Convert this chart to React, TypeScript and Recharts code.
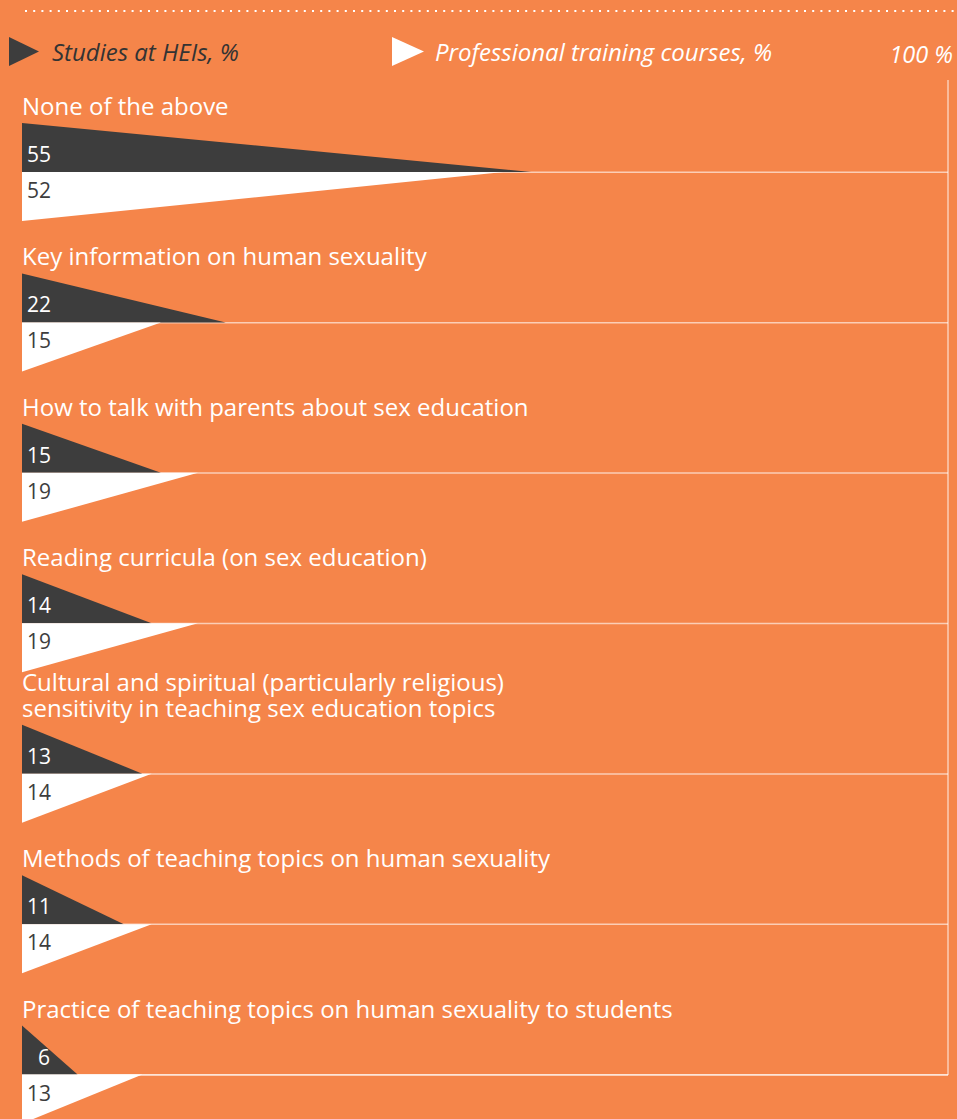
import { BarChart, Bar, XAxis, YAxis, CartesianGrid, LabelList } from "recharts";

const categories = [
  "None of the above",
  "Key information on human sexuality",
  "How to talk with parents about sex education",
  "Reading curricula (on sex education)",
  "Cultural and spiritual (particularly religious)\nsensitivity in teaching sex education topics",
  "Methods of teaching topics on human sexuality",
  "Practice of teaching topics on human sexuality to students",
];
const heiValues = [55, 22, 15, 14, 13, 11, 6];
const courseValues = [52, 15, 19, 19, 14, 14, 13];
const seriesNames = ["Studies at HEIs, %", "Professional training courses, %"];
const scaleLabel = "100 %";

const data = categories.map((name, i) => ({
  name,
  hei: heiValues[i],
  course: courseValues[i],
}));

const ORANGE = "#F5854A";
const DARK = "#3D3D3D";
const LINE = "rgba(255,255,255,0.6)";
const FONT = "'Open Sans', sans-serif";

// dark triangle: right angle at bottom-left, tip on the baseline
function DarkTriangle(props: any) {
  const { x, y, width, height, fill } = props;
  return (
    <polygon
      points={`${x},${y} ${x},${y + height} ${x + width},${y + height}`}
      fill={fill}
    />
  );
}

// white triangle: right angle at top-left, tip on the baseline
function LightTriangle(props: any) {
  const { x, y, width, height, fill } = props;
  return (
    <polygon points={`${x},${y} ${x + width},${y} ${x},${y + height}`} fill={fill} />
  );
}

function CategoryLabel(props: any) {
  const { x, y, value } = props;
  const lines = String(value).split("\n");
  const lastY = y - 8;
  return (
    <text x={x} y={lastY} fill="#fff" fontSize={24} fontFamily={FONT}>
      {lines.map((l, i) => (
        <tspan key={i} x={x} y={lastY - (lines.length - 1 - i) * 26}>
          {l}
        </tspan>
      ))}
    </text>
  );
}

function DarkValue(props: any) {
  const { x, y, width, height, value } = props;
  const tx = width < 70 ? x + 16 : x + 5;
  return (
    <text x={tx} y={y + height - 10} fill="#fff" fontSize={21} fontFamily={FONT}>
      {value}
    </text>
  );
}

function LightValue(props: any) {
  const { x, y, value } = props;
  return (
    <text x={x + 5} y={y + 26} fill={DARK} fontSize={21} fontFamily={FONT}>
      {value}
    </text>
  );
}

function GridLine(p: any) {
  const { x1, x2, y1, y2 } = p;
  // skip the plot's top edge, keep the baselines under the triangles
  if (Math.abs(y1 - 80) < 1) return <g />;
  return <line x1={x1} x2={x2} y1={y1} y2={y2} stroke={LINE} strokeWidth={1.5} />;
}

function Header() {
  return (
    <svg width={957} height={78} style={{ position: "absolute", left: 0, top: 0 }}>
      <line
        x1={25}
        y1={11}
        x2={957}
        y2={11}
        stroke="#fff"
        strokeWidth={2}
        strokeDasharray="2 6.2"
      />
      <polygon points="9,37 9,66 39,51.5" fill={DARK} />
      <text x={52} y={61} fill="#333" fontSize={24} fontStyle="italic" fontFamily={FONT}>
        {seriesNames[0]}
      </text>
      <polygon points="392,37 392,66 424,51.5" fill="#fff" />
      <text x={435} y={61} fill="#fff" fontSize={24} fontStyle="italic" fontFamily={FONT}>
        {seriesNames[1]}
      </text>
      <text
        x={953}
        y={63}
        fill="#fff"
        fontSize={23.5}
        fontStyle="italic"
        fontFamily={FONT}
        textAnchor="end"
      >
        {scaleLabel}
      </text>
    </svg>
  );
}

export default function App() {
  return (
    <div
      style={{
        position: "absolute",
        left: 0,
        top: 0,
        width: 957,
        height: 1119,
        overflow: "hidden",
        background: ORANGE,
      }}
    >
      <BarChart
        layout="vertical"
        width={957}
        height={1160}
        data={data}
        margin={{ top: 80, right: 8, bottom: 85, left: 22 }}
        barGap={0}
        barSize={49}
      >
        <CartesianGrid vertical={false} horizontal={GridLine} />
        <XAxis type="number" domain={[0, 100]} hide />
        <YAxis
          type="category"
          dataKey="name"
          hide
          padding={{ top: 17, bottom: -75 }}
        />
        <YAxis
          yAxisId="frame"
          orientation="right"
          type="number"
          domain={[0, 1]}
          ticks={[0, 1]}
          width={1}
          tick={false}
          tickSize={3}
          axisLine={{ stroke: LINE, strokeWidth: 1.5 }}
          tickLine={{ stroke: LINE, strokeWidth: 1.5 }}
          allowDataOverflow
        />
        <Bar
          dataKey="hei"
          name={seriesNames[0]}
          fill={DARK}
          shape={<DarkTriangle />}
          isAnimationActive={false}
        >
          <LabelList dataKey="name" content={<CategoryLabel />} />
          <LabelList dataKey="hei" content={<DarkValue />} />
        </Bar>
        <Bar
          dataKey="course"
          name={seriesNames[1]}
          fill="#fff"
          shape={<LightTriangle />}
          isAnimationActive={false}
        >
          <LabelList dataKey="course" content={<LightValue />} />
        </Bar>
      </BarChart>
      <Header />
    </div>
  );
}
